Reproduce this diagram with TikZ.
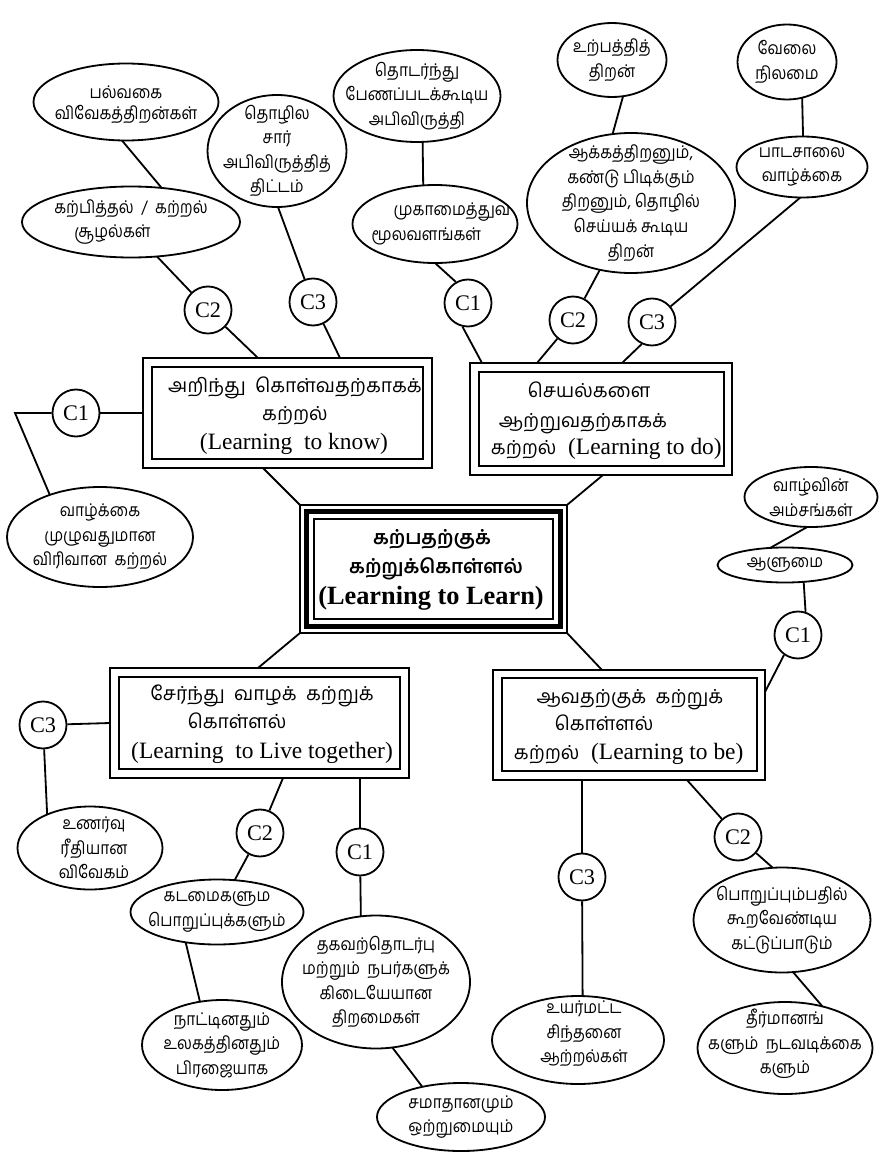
\documentclass[tikz,border=0pt]{standalone}
\usepackage{fontspec}
\setmainfont{Liberation Serif}
\newfontfamily\ta[Script=Tamil]{Hind Madurai}
\newfontfamily\te[Script=Tamil,FakeStretch=0.88]{Hind Madurai}
\usetikzlibrary{shapes.geometric,calc}
\newlength\pxl
\setlength\pxl{0.03cm}
\newcommand\tb{\ta\fontsize{16.5}{24}\selectfont}
\newcommand\tc{\ta\bfseries\fontsize{16.5}{26}\selectfont}
\newcommand\myel[6][]{%
  \node[ell,minimum width=#4\pxl,minimum height=#5\pxl] (#2) at (#3) {};
  \node[etxt,#1] (#2t) at (#3) {#6};}
\begin{document}
\begin{tikzpicture}[x=0.03cm,y=-0.03cm,
  line width=1.55pt,
  ell/.style={draw,ellipse,inner sep=0pt,outer sep=0pt},
  etxt/.style={align=center,inner sep=0pt,font=\te\fontsize{15}{21}\selectfont},
  cc/.style={draw,circle,minimum size=47\pxl,inner sep=0pt,font=\fontsize{19}{19}\selectfont},
  bx/.style={draw,rectangle,inner sep=0pt,outer sep=0pt},
  btam/.style={inner sep=0pt,anchor=mid,font=\tb},
  beng/.style={inner sep=0pt,anchor=mid,font=\fontsize{20}{24}\selectfont},
  ctam/.style={inner sep=0pt,anchor=mid,font=\tc},
  ceng/.style={inner sep=0pt,anchor=mid,font=\bfseries\fontsize{22.5}{26}\selectfont}
]
\fill[white] (0,0) rectangle (880,1152);
\useasboundingbox (0,0) rectangle (880,1152);

% ---------- boxes ----------
\node[bx,minimum width=289\pxl,minimum height=110\pxl] (b1) at (287.5,413) {};
\draw ($(b1.north west)+(9,9)$) rectangle ($(b1.south east)+(-9,-9)$);
\node[btam] (b1l1) at (295,390) {அறிந்து\ \ கொள்வதற்காகக்};
\node[btam] (b1l2) at (295,418) {கற்றல்};
\node[beng] (b1l3) at (294,447) {(Learning\ \ to know)};

\node[bx,minimum width=262\pxl,minimum height=112\pxl] (b2) at (601,419) {};
\draw ($(b2.north west)+(9,9)$) rectangle ($(b2.south east)+(-8,-9)$);
\node[btam] (b2l1) at (589,395) {செயல்களை};
\node[btam,anchor=mid west] (b2l2) at (498,425) {ஆற்றுவதற்காகக்};
\node[beng,anchor=mid west] (b2l3) at (490,452) {{\tb கற்றல்}\ \ (Learning to do)};

\node[bx,minimum width=299\pxl,minimum height=110\pxl] (b3) at (259.5,723) {};
\draw ($(b3.north west)+(9,9)$) rectangle ($(b3.south east)+(-9,-9)$);
\node[btam] (b3l1) at (262,698) {சேர்ந்து\ \ வாழக்\ \ கற்றுக்};
\node[btam] (b3l2) at (237,726) {கொள்ளல்};
\node[beng] (b3l3) at (262,756) {(Learning\ \ to Live together)};

\node[bx,minimum width=272\pxl,minimum height=110\pxl] (b4) at (629,725) {};
\draw ($(b4.north west)+(9,8)$) rectangle ($(b4.south east)+(-8,-9)$);
\node[btam] (b4l1) at (630,701) {ஆவதற்குக்\ \ கற்றுக்};
\node[btam] (b4l2) at (604,728) {கொள்ளல்};
\node[beng,anchor=mid west] (b4l3) at (513,757) {{\tb கற்றல்}\ \ (Learning to be)};

\node[bx,line width=1.2pt,minimum width=267\pxl,minimum height=128\pxl] (cb) at (433.5,569) {};
\draw[line width=4pt] ($(cb.north west)+(6.5,6.5)$) rectangle ($(cb.south east)+(-6.5,-6.5)$);
\draw[line width=1.2pt] ($(cb.north west)+(14,14)$) rectangle ($(cb.south east)+(-14,-14)$);
\node[ctam] (cbl1) at (432,542) {கற்பதற்குக்};
\node[ctam] (cbl2) at (436,571) {கற்றுக்கொள்ளல்};
\node[ceng] (cbl3) at (431,602) {(Learning to Learn)};

% ---------- circles ----------
\node[cc] (c2a) at (208,310) {C2};
\node[cc] (c3a) at (313,302) {C3};
\node[cc] (c1a) at (76,413) {C1};
\node[cc] (c1b) at (468,303) {C1};
\node[cc] (c2b) at (573,320) {C2};
\node[cc] (c3b) at (652,322) {C3};
\node[cc] (c1c) at (798,635) {C1};
\node[cc] (c3d) at (582,877) {C3};
\node[cc] (c2d) at (738,837) {C2};
\node[cc] (c3e) at (43,725) {C3};
\node[cc] (c2e) at (260,833) {C2};
\node[cc] (c1f) at (360,852) {C1};

% ---------- ellipses ----------
\myel[font=\te\fontsize{15}{18}\selectfont,yshift=-3\pxl]{e1}{126,102}{185}{77}{பல்வகை\\விவேகத்திறன்கள்}
\myel[align=left]{e2}{131,222}{218}{71}{கற்பித்தல்\ \ /\ \ கற்றல்\\\hspace*{20\pxl}சூழல்கள்}
\myel{e3}{277,151}{139}{112}{தொழில\\சார்\\அபிவிருத்தித்\\திட்டம்}
\myel{e4}{100,537}{186}{100}{வாழ்க்கை\\முழுவதுமான\\விரிவான\ \ கற்றல்}
\myel[align=left,xshift=6\pxl]{e5}{435,224}{165}{78}{\hspace*{22\pxl}முகாமைத்துவ\\மூலவளங்கள்}
\myel{e6}{417,96}{167}{92}{தொடர்ந்து\\பேணப்படக்கூடிய\\அபிவிருத்தி}
\myel{e7}{612,60}{109}{74}{உற்பத்தித்\\திறன்}
\myel{e8}{631,203}{208}{140}{ஆக்கத்திறனும்,\\கண்டு பிடிக்கும்\\திறனும், தொழில்\\செய்யக் கூடிய\\திறன்}
\myel{e9}{802,167}{131}{61}{பாடசாலை\\வாழ்க்கை}
\myel{e10}{787,62}{99}{75}{வேலை\\நிலமை}
\myel{e11}{811,497}{133}{60}{வாழ்வின்\\அம்சங்கள்}
\myel{e12}{785,565}{135}{35}{ஆளுமை}
\myel[xshift=6\pxl,yshift=6\pxl]{e13}{578,1040}{172}{88}{உயர்மட்ட\\சிந்தனை\\ஆற்றல்கள்}
\myel{e14}{782,920}{177}{105}{பொறுப்பும்பதில்\\கூறவேண்டிய\hspace*{40\pxl}\\கட்டுப்பாடும்}
\myel[yshift=4\pxl]{e15}{785,1048}{175}{92}{தீர்மானங்\\களும்\ \ நடவடிக்கை\\களும்}
\myel[xshift=4\pxl]{e16}{90,848}{145}{83}{உணர்வு\\ரீதியான\\விவேகம்}
\myel{e17}{217,912}{173}{65}{கடமைகளும\\பொறுப்புக்களும்}
\myel{e18}{222,1045}{160}{90}{நாட்டினதும்\\உலகத்தினதும்\\பிரஜையாக}
\myel{e19}{376,982}{188}{133}{தகவற்தொடர்பு\\மற்றும்\ \ நபர்களுக்\\கிடையேயான\\திறமைகள்}
\myel{e20}{461,1117}{168}{68}{சமாதானமும்\\ஒற்றுமையும்}

% ---------- connectors ----------
\coordinate (k1) at (15,413);
\draw (e1.-96) -- (e2.48);
\draw (e2.-53) -- (c2a);
\draw (c2a) -- ($(b1.north west)+(115,0)$);
\draw (e3.-89) -- (c3a);
\draw (c3a) -- ($(b1.north west)+(197,0)$);
\draw (c1a) -- (b1.west);
\draw (c1a.west) -- (k1) -- (e4.140);
\draw ($(b1.south west)+(120,0)$) -- (cb.north west);
\draw (cb.north east) -- ($(b2.south west)+(133,0)$);
\draw (cb.south east) -- ($(b4.north west)+(109,0)$);
\draw (cb.south west) -- ($(b3.north west)+(148,0)$);
\draw (e5.-90) -- (c1b.120);
\draw (c1b.-103) -- ($(b2.north west)+(12,0)$);
\draw (e6.-83) -- (e5.107);
\draw (e7.-73) -- (e8.105);
\draw (e8.-115) -- (c2b);
\draw (c2b) -- ($(b2.north west)+(67,0)$);
\draw (c3b) -- (e9.-93);
\draw (c3b.-115) -- ($(b2.north west)+(152,0)$);
\draw (e10.-67) -- (e9.88);
\draw (e11.-97) -- (e12.131);
\draw (e12.-42) -- (c1c.72);
\draw (c1c.-125) -- ($(b4.north east)+(0,22)$);
\draw ($(b4.south west)+(89,0)$) -- (c3d);
\draw (c3d) -- (e13.84);
\draw ($(b4.south west)+(194,0)$) -- (c2d);
\draw (c2d) -- (e14.100);
\draw (e14.-78) -- (e15.48);
\draw (c3e) -- (b3.west);
\draw (c3e) -- (e16.142);
\draw ($(b3.south west)+(173,0)$) -- (c2e);
\draw (c2e) -- (e17.61);
\draw (e17.-136) -- (e18.117);
\draw ($(b3.south west)+(250,0)$) -- (c1f);
\draw (c1f) -- (e19.103);
\draw (e19.-76) -- (e20.142);
\end{tikzpicture}
\end{document}
